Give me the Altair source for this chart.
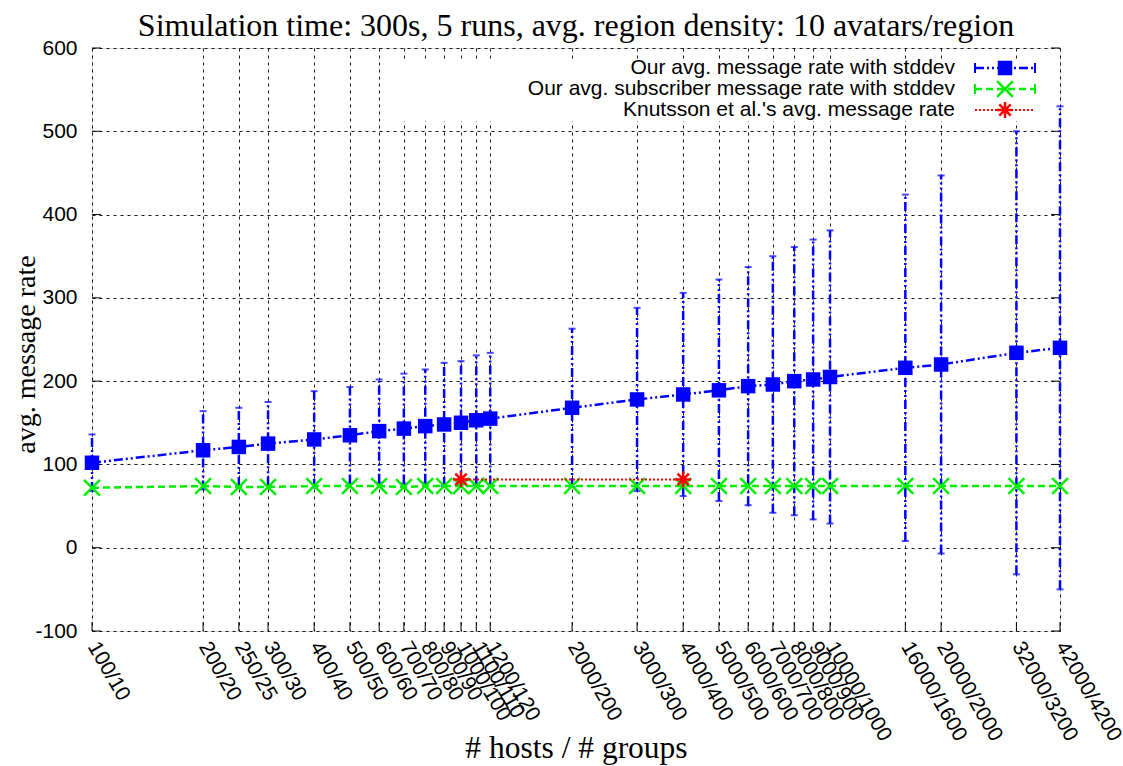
import altair as alt
import pandas as pd

# ---- data ----
hosts = [100, 200, 250, 300, 400, 500, 600, 700, 800, 900, 1000, 1100, 1200,
         2000, 3000, 4000, 5000, 6000, 7000, 8000, 9000, 10000, 16000, 20000,
         32000, 42000]
groups = [10, 20, 25, 30, 40, 50, 60, 70, 80, 90, 100, 110, 120,
          200, 300, 400, 500, 600, 700, 800, 900, 1000, 1600, 2000,
          3200, 4200]
avg_rate = [102, 117, 121, 125, 130, 135, 140, 143, 146, 148, 150, 153, 155,
            168, 178, 184, 189, 194, 196, 200, 202, 205, 216, 220, 234, 240]
avg_std = [34, 47, 47, 50, 58, 58, 62, 66, 68, 74, 74, 78, 79,
           95, 110, 122, 133, 143, 154, 161, 168, 176, 208, 227, 266, 290]
sub_rate = [72, 74, 73, 73, 74, 74, 74, 73, 74, 74, 74, 74, 74,
            74, 74, 74, 74, 74, 74, 74, 74, 74, 74, 74, 74, 74]
knut_hosts = [1000, 4000]
knut_rate = [82, 82]
y_ticks = [-100, 0, 100, 200, 300, 400, 500, 600]

title_text = "Simulation time: 300s, 5 runs, avg. region density: 10 avatars/region"
legend_labels = ["Our avg. message rate with stddev",
                 "Our avg. subscriber message rate with stddev",
                 "Knutsson et al.'s avg. message rate"]

W, H = 968, 583
BLUE, GREEN, RED = "#0000ff", "#00ee00", "#ff0000"
SANS, SERIF = "Liberation Sans", "Liberation Serif"
LBL = 21

df = pd.DataFrame({"hosts": hosts, "groups": groups, "rate": avg_rate,
                   "std": avg_std, "sub": sub_rate})
df["lo"] = df["rate"] - df["std"]
df["hi"] = df["rate"] + df["std"]
kdf = pd.DataFrame({"hosts": knut_hosts, "rate": knut_rate})
ydf = pd.DataFrame({"y": y_ticks})

label_map = "{" + ",".join(f"'{h}':'{h}/{g}'" for h, g in zip(hosts, groups)) + "}"

xscale = alt.Scale(type="log", domain=[100, 42000], nice=False)
yscale = alt.Scale(domain=[-100, 600], nice=False, zero=False)

x_axis = alt.Axis(values=hosts, labelExpr=f"{label_map}[datum.value]",
                  labelFont=SANS, labelFontSize=LBL, labelColor="black",
                  labelAngle=60, labelAlign="left", labelBaseline="middle",
                  labelPadding=12, labelOverlap=False, labelBound=False,
                  labelFlush=False, ticks=False, domain=False,
                  grid=True, gridDash=[3, 4], gridColor="black", gridOpacity=0.9,
                  title="# hosts / # groups", titleFont=SERIF, titleFontSize=31.5,
                  titleColor="black",
                  titleFontWeight="normal", titleY=126, titleBaseline="alphabetic")
y_axis = alt.Axis(values=y_ticks, labelExpr="'' + datum.value",
                  labelFont=SANS, labelFontSize=LBL, labelColor="black",
                  ticks=False, domain=False, labelPadding=15,
                  grid=True, gridDash=[3, 4], gridColor="black", gridOpacity=0.9,
                  title="avg. message rate", titleFont=SERIF, titleFontSize=28,
                  titleColor="black",
                  titleFontWeight="normal", titleAngle=270, titleX=-58,
                  titleY=306, titleAlign="center", titleBaseline="alphabetic")

X = alt.X("hosts:Q", scale=xscale, axis=x_axis)

base = alt.Chart(df)

# inward ticks
xticks = base.mark_rule(color="black", strokeWidth=1).encode(
    x=alt.X("hosts:Q", scale=xscale, axis=x_axis), y=alt.value(H), y2=alt.value(H - 9))
yticks_l = alt.Chart(ydf).mark_rule(color="black", strokeWidth=1).encode(
    y=alt.Y("y:Q", scale=yscale, axis=y_axis), x=alt.value(0), x2=alt.value(9))
yticks_r = alt.Chart(ydf).mark_rule(color="black", strokeWidth=1).encode(
    y=alt.Y("y:Q", scale=yscale), x=alt.value(W), x2=alt.value(W - 9))

one = alt.Data(values=[{}])

# chart title as a text mark
title_mark = alt.Chart(one).mark_text(
    align="center", baseline="alphabetic", font=SERIF, fontSize=32, color="black").encode(
    x=alt.value(W / 2), y=alt.value(-12), text=alt.value(title_text))

# legend background box
leg_box = alt.Chart(one).mark_rect(color="white").encode(
    x=alt.value(308), x2=alt.value(948), y=alt.value(12), y2=alt.value(73))

BLUE_DASH = [9, 3, 2, 3, 2, 3]

err = base.mark_rule(color=BLUE, strokeWidth=2.5, strokeDash=BLUE_DASH).encode(
    x=X, y=alt.Y("lo:Q", scale=yscale), y2="hi:Q")
cap_hi = base.mark_tick(color=BLUE, orient="horizontal", size=7, thickness=2).encode(
    x=X, y=alt.Y("hi:Q", scale=yscale))
cap_lo = base.mark_tick(color=BLUE, orient="horizontal", size=7, thickness=2).encode(
    x=X, y=alt.Y("lo:Q", scale=yscale))
blue_line = base.mark_line(color=BLUE, strokeWidth=2.5, strokeDash=BLUE_DASH).encode(
    x=X, y=alt.Y("rate:Q", scale=yscale))
blue_pts = base.mark_point(shape="square", filled=True, color=BLUE, size=210, opacity=1).encode(
    x=X, y=alt.Y("rate:Q", scale=yscale))

XSHAPE = "M-1,-1L1,1M-1,1L1,-1"
STAR = "M-1,0L1,0M0,-1L0,1M-0.72,-0.72L0.72,0.72M-0.72,0.72L0.72,-0.72"

green_line = base.mark_line(color=GREEN, strokeWidth=2.5, strokeDash=[7, 4]).encode(
    x=X, y=alt.Y("sub:Q", scale=yscale))
green_pts = base.mark_point(shape=XSHAPE, filled=False, color=GREEN, size=250,
                            strokeWidth=2.5, opacity=1).encode(
    x=X, y=alt.Y("sub:Q", scale=yscale))

kbase = alt.Chart(kdf)
red_line = kbase.mark_line(color=RED, strokeWidth=2, strokeDash=[2, 2]).encode(
    x=X, y=alt.Y("rate:Q", scale=yscale))
red_pts = kbase.mark_point(shape=STAR, filled=False, color=RED, size=250,
                           strokeWidth=2.5, opacity=1).encode(
    x=X, y=alt.Y("rate:Q", scale=yscale))

# manual key (gnuplot style: text left, sample right)
ly = [20, 41, 62]
leg_layers = []
for lab, yy in zip(legend_labels, ly):
    leg_layers.append(alt.Chart(one).mark_text(
        align="right", baseline="middle", font=SANS, fontSize=LBL, color="black").encode(
        x=alt.value(863), y=alt.value(yy), text=alt.value(lab)))
# blue sample
leg_layers.append(alt.Chart(one).mark_rule(color=BLUE, strokeWidth=2.5, strokeDash=BLUE_DASH).encode(
    x=alt.value(883), x2=alt.value(943), y=alt.value(ly[0])))
for xx in (883, 943):
    leg_layers.append(alt.Chart(one).mark_rule(color=BLUE, strokeWidth=2).encode(
        x=alt.value(xx), y=alt.value(ly[0] - 5), y2=alt.value(ly[0] + 5)))
leg_layers.append(alt.Chart(one).mark_point(shape="square", filled=True, color=BLUE, size=210, opacity=1).encode(
    x=alt.value(913), y=alt.value(ly[0])))
# green sample
leg_layers.append(alt.Chart(one).mark_rule(color=GREEN, strokeWidth=2.5, strokeDash=[7, 4]).encode(
    x=alt.value(883), x2=alt.value(943), y=alt.value(ly[1])))
for xx in (883, 943):
    leg_layers.append(alt.Chart(one).mark_rule(color=GREEN, strokeWidth=2).encode(
        x=alt.value(xx), y=alt.value(ly[1] - 5), y2=alt.value(ly[1] + 5)))
leg_layers.append(alt.Chart(one).mark_point(shape=XSHAPE, filled=False, color=GREEN, size=250,
                                            strokeWidth=2.5, opacity=1).encode(
    x=alt.value(913), y=alt.value(ly[1])))
# red sample
leg_layers.append(alt.Chart(one).mark_rule(color=RED, strokeWidth=2, strokeDash=[2, 2]).encode(
    x=alt.value(883), x2=alt.value(943), y=alt.value(ly[2])))
leg_layers.append(alt.Chart(one).mark_point(shape=STAR, filled=False, color=RED, size=250,
                                            strokeWidth=2.5, opacity=1).encode(
    x=alt.value(913), y=alt.value(ly[2])))

chart = alt.layer(
    xticks, yticks_l, yticks_r, leg_box,
    err, cap_hi, cap_lo, blue_line, blue_pts,
    green_line, green_pts, red_line, red_pts,
    title_mark, *leg_layers
).resolve_scale(x="shared", y="shared").properties(
    width=W, height=H,
    autosize=alt.AutoSizeParams(type="none"),
    padding={"left": 92, "top": 48, "right": 63, "bottom": 135},
).configure_view(
    stroke="black", strokeWidth=1.5
).configure(background="white")

chart.save("out.html", embed_options={"renderer": "svg", "actions": False})
